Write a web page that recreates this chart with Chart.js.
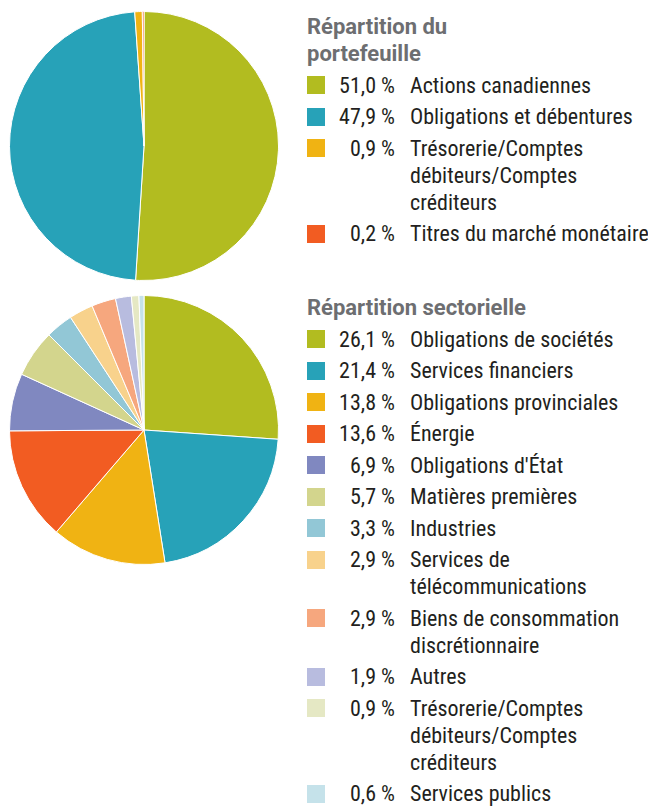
<!DOCTYPE html>
<html><head><meta charset="utf-8">
<script src="https://cdn.jsdelivr.net/npm/chart.js@4.4.1/dist/chart.umd.min.js"></script>
<style>
html,body{margin:0;padding:0;background:#fff;}
body{width:648px;height:807px;position:relative;overflow:hidden;font-family:"Roboto Condensed","Roboto","Liberation Sans",sans-serif;color:#231f20;}
.pie{position:absolute;}
.legend{position:absolute;left:307px;}
.title{font-family:"Roboto","Liberation Sans",sans-serif;font-weight:bold;color:#6d6e71;font-size:22px;line-height:27px;white-space:pre;}
.item{position:relative;font-size:22px;line-height:27px;margin-top:4.5px;}
.sw{position:absolute;left:0;top:4.5px;width:18px;height:18px;}
.pct{position:absolute;left:18px;width:70px;text-align:right;white-space:nowrap;}
.lab{margin-left:103px;white-space:pre;}
</style></head><body>
<canvas id="c1" class="pie" width="270" height="270" style="left:9px;top:11px;width:270px;height:270px"></canvas>
<canvas id="c2" class="pie" width="270" height="270" style="left:9px;top:295px;width:270px;height:270px"></canvas>
<div id="l1" class="legend" style="top:13px"></div>
<div id="l2" class="legend" style="top:294px"></div>
<script>
const title1 = "Répartition du\nportefeuille";
const labels1 = ["Actions canadiennes","Obligations et débentures","Trésorerie/Comptes\ndébiteurs/Comptes\ncréditeurs","Titres du marché monétaire"];
const values1 = [51.0, 47.9, 0.9, 0.2];
const colors1 = ["#b2bc20","#27a2b8","#f0b313","#f25c22"];

const title2 = "Répartition sectorielle";
const labels2 = ["Obligations de sociétés","Services financiers","Obligations provinciales","Énergie","Obligations d'État","Matières premières","Industries","Services de\ntélécommunications","Biens de consommation\ndiscrétionnaire","Autres","Trésorerie/Comptes\ndébiteurs/Comptes\ncréditeurs","Services publics"];
const values2 = [26.1, 21.4, 13.8, 13.6, 6.9, 5.7, 3.3, 2.9, 2.9, 1.9, 0.9, 0.6];
const colors2 = ["#b2bc20","#27a2b8","#f0b313","#f25c22","#8088c0","#d3d58d","#92c7d6","#f8d28c","#f6a77e","#b8bcdf","#e5e8c4","#c5e2ea"];

function makePie(id, labels, values, colors){
  new Chart(document.getElementById(id), {
    type: 'pie',
    data: { labels: labels, datasets: [{ data: values, backgroundColor: colors, borderColor: '#ffffff', borderWidth: 1 }] },
    options: {
      responsive: false, animation: false, devicePixelRatio: 1,
      layout: { padding: 0 },
      plugins: { legend: { display: false }, tooltip: { enabled: false } }
    }
  });
}
function makeLegend(id, title, labels, values, colors){
  const el = document.getElementById(id);
  const t = document.createElement('div');
  t.className = 'title';
  t.textContent = title;
  el.appendChild(t);
  labels.forEach((lab, i) => {
    const it = document.createElement('div'); it.className = 'item';
    const sw = document.createElement('div'); sw.className = 'sw'; sw.style.background = colors[i];
    const p = document.createElement('div'); p.className = 'pct'; p.textContent = values[i].toFixed(1).replace('.', ',') + ' %';
    const l = document.createElement('div'); l.className = 'lab'; l.textContent = lab;
    it.appendChild(sw); it.appendChild(p); it.appendChild(l);
    el.appendChild(it);
  });
}
makePie('c1', labels1, values1, colors1);
makePie('c2', labels2, values2, colors2);
makeLegend('l1', title1, labels1, values1, colors1);
makeLegend('l2', title2, labels2, values2, colors2);
</script>
</body></html>
